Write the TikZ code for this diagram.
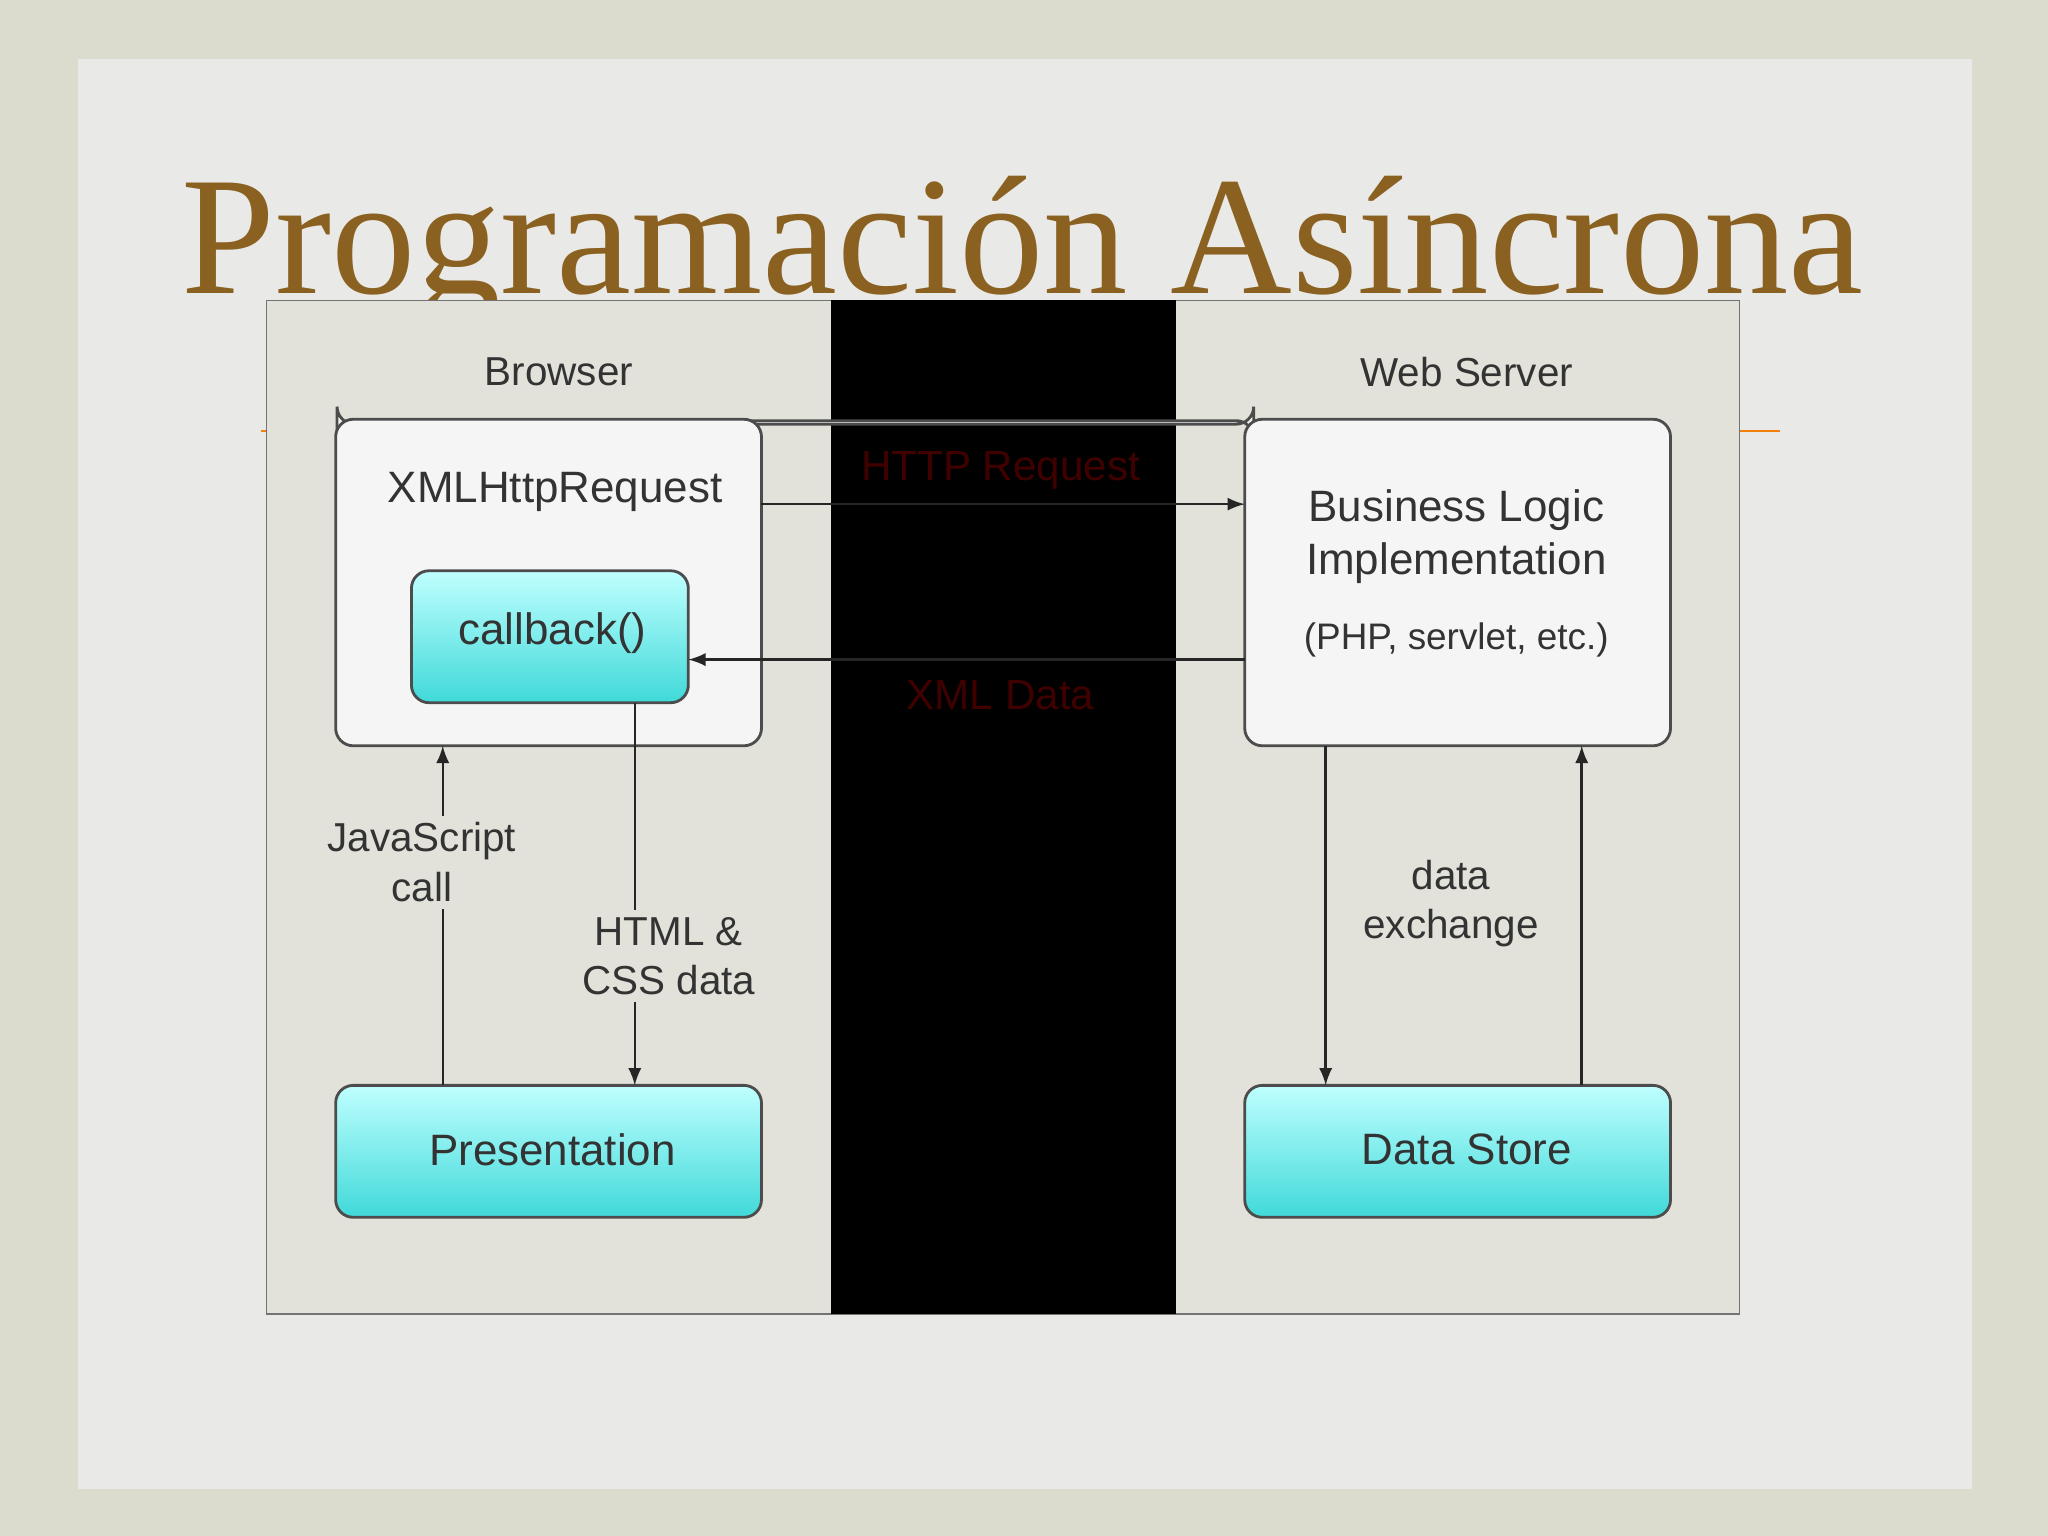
\documentclass[tikz,border=0pt]{standalone}
\usepackage{fontspec}
\setmainfont{Liberation Serif}
\setsansfont{Liberation Sans}
\begin{document}
\begin{tikzpicture}[x=0.013061cm,y=-0.013061cm,
  lbl/.style={font=\sffamily\fontsize{11.5}{14}\selectfont,text=black!80,align=center},
  wbox/.style={draw=black!70,line width=0.8pt,rounded corners=5pt,fill=white!92!gray},
  tbox/.style={draw=black!70,line width=0.8pt,rounded corners=5pt,top color=cyan!25!white,bottom color=cyan!60!teal!75!white},
  arr/.style={-latex,line width=0.7pt,black!85},
  hid/.style={font=\sffamily\fontsize{12}{14}\selectfont,text=red!25!black}]
\definecolor{edge}{HTML}{DCDCCE}
\definecolor{bgc}{HTML}{E9E9E7}
\definecolor{title}{HTML}{8A6121}
\definecolor{panel}{HTML}{E2E2DA}
\useasboundingbox (0,0) rectangle (1568,1176);
\fill[edge] (0,0) rectangle (1568,1176);
\fill[bgc] (60,45) rectangle (1510,1140);
\draw[orange!80!brown,line width=0.8pt] (200,330) -- (1363,330);
\node[font=\fontsize{48}{50}\selectfont,text=title,anchor=base] (title) at (783,225) {Programación Asíncrona};
\draw[fill=panel,draw=black!55] (204,230) rectangle (1332,1006);
\fill[black] (636,230) rectangle (900,1006);
\node[lbl] (browser) at (428,285) {Browser};
\node[lbl] (server) at (1123,285) {Web Server};
\node[wbox,minimum width=326\pgflinewidth,anchor=north west,inner sep=0] (xhr) at (257,321) {};
\path[wbox] (257,321) rectangle (583,571);
\coordinate (xhrR1) at (583,386); \coordinate (xhrB1) at (339,571);
\node[lbl,font=\sffamily\fontsize{12.5}{15}\selectfont] (xhrt) at (425,377) {XMLHttpRequest};
\path[tbox] (315,437) rectangle (527,538);
\node[lbl,font=\sffamily\fontsize{12.5}{15}\selectfont] (cb) at (423,485) {callback()};
\path[wbox] (953,321) rectangle (1279,571);
\node[lbl,font=\sffamily\fontsize{12.5}{15}\selectfont] (bl) at (1115,411) {Business Logic\\Implementation};
\node[lbl,font=\sffamily\fontsize{10.5}{13}\selectfont] (php) at (1115,490) {(PHP, servlet, etc.)};
\path[tbox] (257,831) rectangle (583,932);
\node[lbl,font=\sffamily\fontsize{12.5}{15}\selectfont] (pres) at (423,880) {Presentation};
\path[tbox] (953,831) rectangle (1279,932);
\node[lbl,font=\sffamily\fontsize{12.5}{15}\selectfont] (ds) at (1123,880) {Data Store};
\coordinate (a1) at (583,386); \coordinate (a2) at (953,386);
\coordinate (b1) at (953,505); \coordinate (b2) at (527,505);
\draw[arr] (a1) -- (a2);
\draw[arr] (b1) -- (b2);
\node[hid] (http) at (766,360) {HTTP Request};
\node[hid] (xml) at (766,532) {XML Data};
\coordinate (j1) at (339,831); \coordinate (j2) at (339,571);
\draw[arr] (j1) -- (j2);
\node[lbl,fill=panel,inner sep=2pt] (js) at (323,660) {JavaScript\\call};
\coordinate (h1) at (486,538); \coordinate (h2) at (486,831);
\draw[arr] (h1) -- (h2);
\node[lbl,fill=panel,inner sep=2pt] (html) at (512,732) {HTML \&\\CSS data};
\coordinate (d1) at (1015,571); \coordinate (d2) at (1015,831);
\coordinate (e1) at (1211,831); \coordinate (e2) at (1211,571);
\draw[arr] (d1) -- (d2);
\draw[arr] (e1) -- (e2);
\node[lbl] (dx) at (1111,692) {data\\exchange};
\end{tikzpicture}
\end{document}
